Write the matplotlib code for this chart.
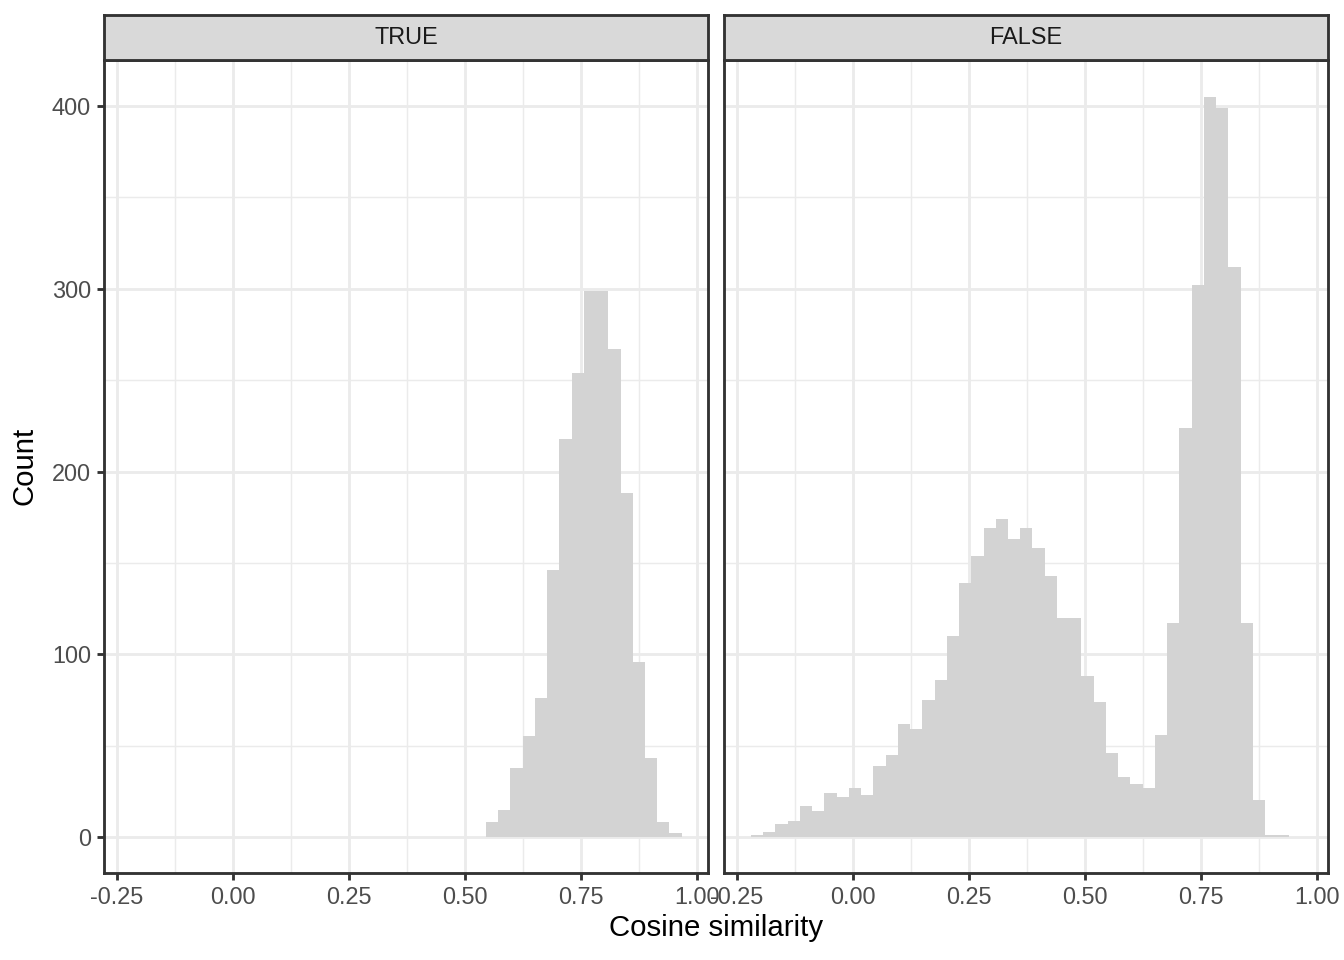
import numpy as np
import matplotlib.pyplot as plt
from matplotlib.patches import Rectangle
from matplotlib.ticker import MultipleLocator

plt.rcParams['font.family'] = ['Liberation Sans', 'DejaVu Sans']

# histogram bins shared by both facets
bin_start = -0.2198
bin_width = 0.026375

# TRUE facet: bins 29..44
true_first_bin = 29
true_counts = [8, 15, 38, 55, 76, 146, 218, 254, 299, 299, 267, 188, 96, 43, 8, 2]

# FALSE facet: bins 0..43
false_first_bin = 0
false_counts = [1, 3, 7, 9, 17, 14, 24, 22, 27, 23,
                39, 45, 62, 59, 75, 86, 110, 139, 154, 169,
                174, 163, 169, 158, 143, 120, 120, 88, 74, 46,
                33, 29, 27, 56, 117, 224, 302, 405, 399, 312,
                117, 20, 1, 1]

panels = ['TRUE', 'FALSE']
x_ticks = [-0.25, 0.0, 0.25, 0.5, 0.75, 1.0]
y_ticks = [0, 100, 200, 300, 400]

grey20 = '#333333'
grey30 = '#4D4D4D'
grid_col = '#EBEBEB'

fig = plt.figure(figsize=(7, 5), dpi=192)

px_w, px_h = 1344, 960
pan_w = (708 - 104) / px_w
pan_h = (873 - 60) / px_h
lefts = [104 / px_w, 724 / px_w]
bottom = 1 - 873 / px_h
strip_h = 45 / px_h

data = [(true_first_bin, true_counts), (false_first_bin, false_counts)]

for i, (name, (first, counts)) in enumerate(zip(panels, data)):
    ax = fig.add_axes([lefts[i], bottom, pan_w, pan_h])
    edges = bin_start + bin_width * (first + np.arange(len(counts)))
    ax.bar(edges, counts, width=bin_width, align='edge', color='#D3D3D3',
           linewidth=0, zorder=2)
    ax.set_xlim(-0.278, 1.0237)
    ax.set_ylim(-19.7, 425.2)
    ax.set_xticks(x_ticks)
    ax.set_xticklabels(['-0.25', '0.00', '0.25', '0.50', '0.75', '1.00'])
    ax.xaxis.set_minor_locator(MultipleLocator(0.125))
    ax.set_yticks(y_ticks)
    ax.yaxis.set_minor_locator(MultipleLocator(50))
    ax.grid(which='major', color=grid_col, linewidth=1.07, zorder=0)
    ax.grid(which='minor', color=grid_col, linewidth=0.55, zorder=0)
    ax.set_axisbelow(True)
    ax.tick_params(which='major', length=2.75, width=1.07, color=grey20,
                   labelsize=8.8, labelcolor=grey30, pad=2.2)
    ax.tick_params(which='minor', length=0)
    if i == 1:
        ax.tick_params(axis='y', which='both', left=False, labelleft=False)
    for s in ax.spines.values():
        s.set_color(grey20)
        s.set_linewidth(1.07)
        s.set_zorder(5)

    sax = fig.add_axes([lefts[i], bottom + pan_h, pan_w, strip_h])
    sax.set_xticks([])
    sax.set_yticks([])
    sax.set_facecolor('#D9D9D9')
    for s in sax.spines.values():
        s.set_color(grey20)
        s.set_linewidth(1.07)
    sax.text(0.5, 0.5, name, ha='center', va='center', fontsize=8.8,
             color='#1A1A1A', transform=sax.transAxes)

fig.text((104 + 1328) / 2 / px_w, 1 - 928 / px_h, 'Cosine similarity',
         ha='center', va='center', fontsize=11)
fig.text(25 / px_w, 1 - 466 / px_h, 'Count', ha='center', va='center',
         rotation=90, fontsize=11)

fig.savefig('out.png', dpi=192, facecolor='white')
